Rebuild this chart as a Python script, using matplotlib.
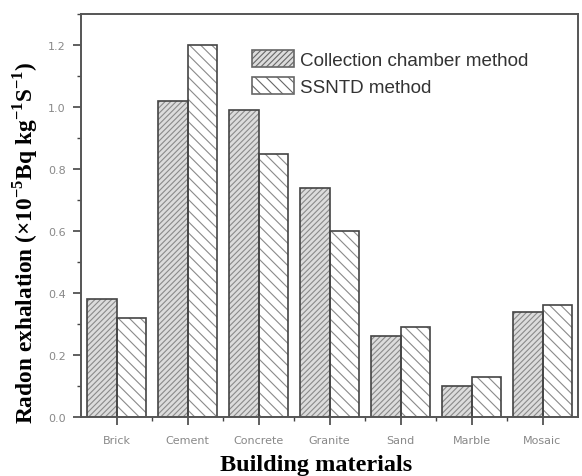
import matplotlib.pyplot as plt
import numpy as np
from matplotlib.ticker import MultipleLocator
from matplotlib.patches import Patch

# 数据
materials = ['Brick', 'Cement', 'Concrete', 'Granite', 'Sand', 'Marble', 'Mosaic']
chamber = [0.38, 1.02, 0.99, 0.74, 0.26, 0.10, 0.34]
ssntd = [0.32, 1.20, 0.85, 0.60, 0.29, 0.13, 0.36]

plt.rcParams['hatch.linewidth'] = 0.8
plt.rcParams['mathtext.fontset'] = 'custom'
plt.rcParams['mathtext.rm'] = 'Liberation Serif'
plt.rcParams['mathtext.bf'] = 'Liberation Serif:bold'

fig = plt.figure(figsize=(5.82, 4.77), dpi=100)
ax = fig.add_axes([81 / 582, 59 / 477, 497 / 582, 403 / 477])

x = np.arange(len(materials))
w = 0.41

# 先画带阴影线的填充，再画深色边框
ax.bar(x - w / 2, chamber, w, color='#dcdcdc', edgecolor='#8a8a8a', hatch='//////', linewidth=0)
ax.bar(x + w / 2, ssntd, w, color='white', edgecolor='#8a8a8a', hatch='\\\\\\', linewidth=0)
ax.bar(x - w / 2, chamber, w, fill=False, edgecolor='#444444', linewidth=1.2)
ax.bar(x + w / 2, ssntd, w, fill=False, edgecolor='#444444', linewidth=1.2)

# 图例（手工代理）
h1 = Patch(facecolor='#dcdcdc', edgecolor='#666666', hatch='//////', linewidth=1.2)
h2 = Patch(facecolor='white', edgecolor='#666666', hatch='\\\\\\', linewidth=1.2)
leg = ax.legend([h1, h2], ['Collection chamber method', 'SSNTD method'],
                loc='upper left', bbox_to_anchor=(0.344, 0.91), frameon=False,
                prop={'family': 'Liberation Sans', 'size': 13.6},
                handlelength=2.2, handleheight=0.95, handletextpad=0.35,
                labelspacing=0.45, borderpad=0.0, borderaxespad=0.0)
for t in leg.get_texts():
    t.set_color('#333333')

ax.set_xlim(-0.5, 6.5)
ax.set_ylim(0, 1.3)
ax.set_xticks(x)
ax.set_xticklabels(materials)
ax.set_xticks(x[:-1] + 0.5, minor=True)
ax.yaxis.set_minor_locator(MultipleLocator(0.1))
ax.set_yticks(np.arange(0, 1.21, 0.2))
ax.set_yticklabels(['0.0', '0.2', '0.4', '0.6', '0.8', '1.0', '1.2'])

ax.tick_params(axis='both', which='major', direction='out', length=6, width=1.2,
               color='#444444', labelsize=8, labelcolor='#888888')
ax.tick_params(axis='both', which='minor', direction='out', length=3, width=1.0, color='#444444')
ax.tick_params(axis='x', which='major', pad=7)
ax.tick_params(axis='y', which='major', pad=5)

for s in ax.spines.values():
    s.set_color('#555555')
    s.set_linewidth(1.4)

fig.text(0.043, 0.49, r'Radon exhalation (×10$^{\mathbf{-5}}$Bq kg$^{\mathbf{-1}}$S$^{\mathbf{-1}}$)',
         rotation=90, ha='center', va='center', fontsize=16.8, fontweight='bold',
         family='Liberation Serif')
fig.text(0.543, 0.025, 'Building materials', ha='center', va='center', fontsize=17.5,
         fontweight='bold', family='Liberation Serif')

fig.savefig('out.png', dpi=100)
